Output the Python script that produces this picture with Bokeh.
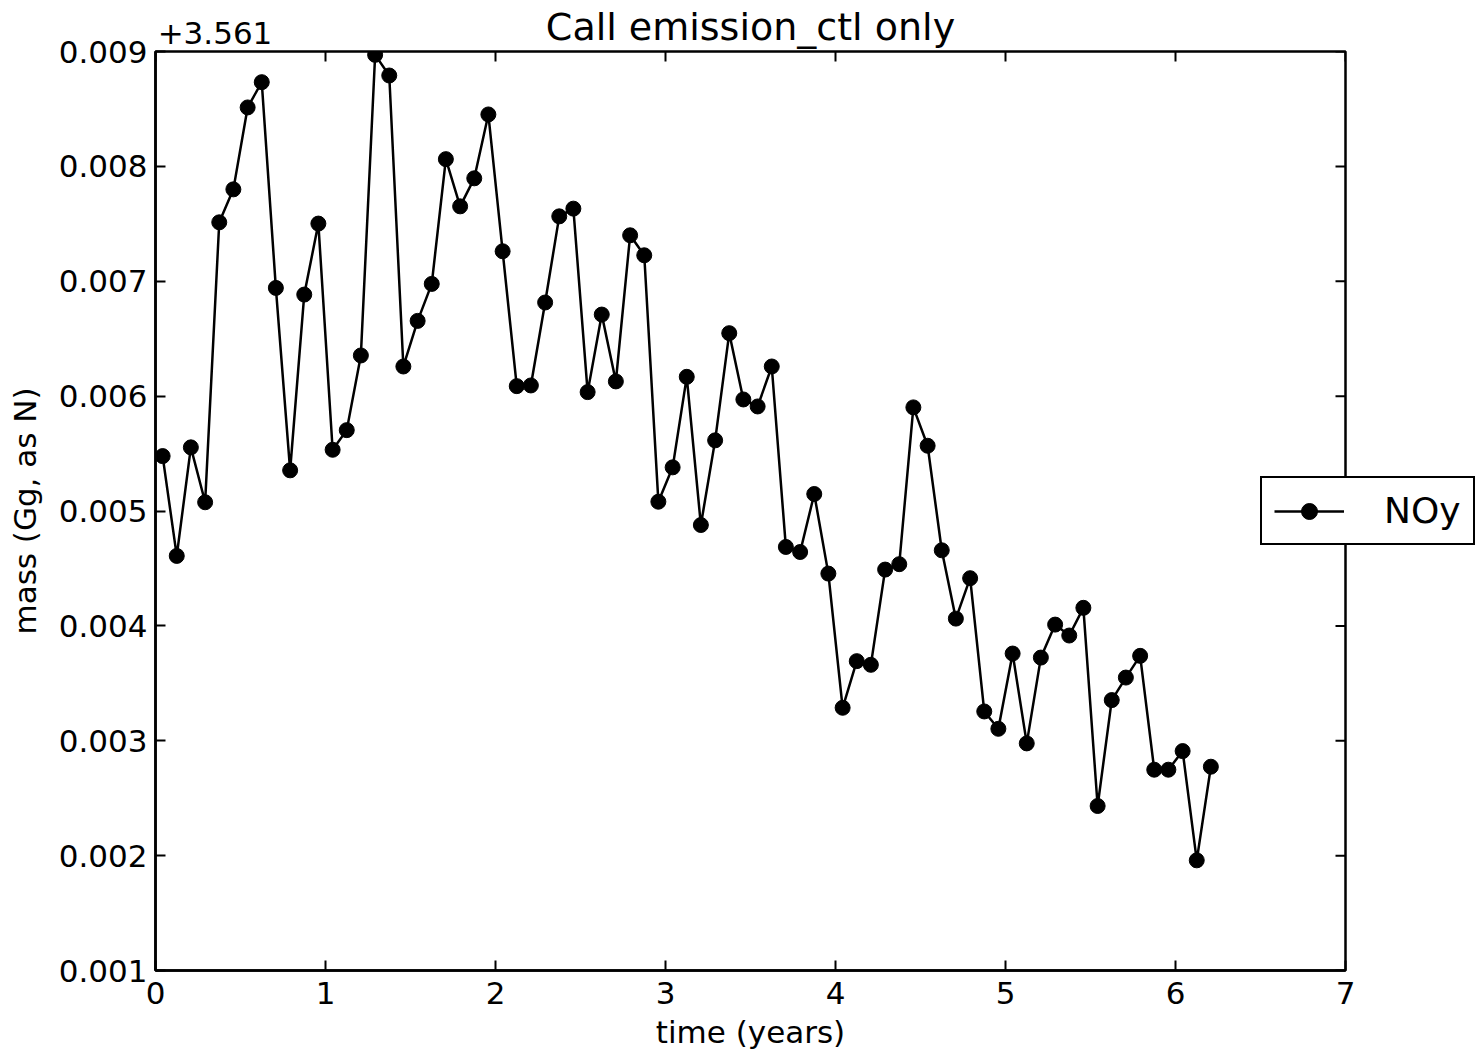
import math
from bokeh.plotting import figure
from bokeh.models import (Range1d, LinearAxis, FixedTicker, PrintfTickFormatter,
                          Legend, LegendItem)
from bokeh.embed import file_html
from bokeh.resources import INLINE

# ---- data -------------------------------------------------------------
offset_label = "+3.561"
title_text = "Call emission_ctl only"
x_label = "time (years)"
y_label = "mass (Gg, as N)"
series_name = "NOy"

time_years = [
    0.042, 0.125, 0.208, 0.292, 0.375, 0.458, 0.542, 0.625, 0.708, 0.792, 0.875, 0.958,
    1.042, 1.125, 1.208, 1.292, 1.375, 1.458, 1.542, 1.625, 1.708, 1.792, 1.875, 1.958,
    2.042, 2.125, 2.208, 2.292, 2.375, 2.458, 2.542, 2.625, 2.708, 2.792, 2.875, 2.958,
    3.042, 3.125, 3.208, 3.292, 3.375, 3.458, 3.542, 3.625, 3.708, 3.792, 3.875, 3.958,
    4.042, 4.125, 4.208, 4.292, 4.375, 4.458, 4.542, 4.625, 4.708, 4.792, 4.875, 4.958,
    5.042, 5.125, 5.208, 5.292, 5.375, 5.458, 5.542, 5.625, 5.708, 5.792, 5.875, 5.958,
    6.042, 6.125, 6.208,
]

# mass (Gg, as N) minus the offset 3.561
mass_minus_offset = [
    0.005478, 0.004609, 0.005554, 0.005076, 0.007513, 0.007800, 0.008513, 0.008733, 0.006942, 0.005354, 0.006884, 0.007502,
    0.005533, 0.005704, 0.006354, 0.008971, 0.008791, 0.006258, 0.006655, 0.006977, 0.008063, 0.007652, 0.007896, 0.008452,
    0.007261, 0.006087, 0.006093, 0.006815, 0.007565, 0.007632, 0.006035, 0.006710, 0.006128, 0.007400, 0.007226, 0.005081,
    0.005380, 0.006168, 0.004878, 0.005615, 0.006548, 0.005971, 0.005910, 0.006258, 0.004687, 0.004643, 0.005148, 0.004455,
    0.003287, 0.003693, 0.003661, 0.004490, 0.004537, 0.005902, 0.005568, 0.004658, 0.004063, 0.004415, 0.003255, 0.003104,
    0.003759, 0.002977, 0.003724, 0.004011, 0.003916, 0.004157, 0.002432, 0.003354, 0.003550, 0.003739, 0.002748, 0.002748,
    0.002910, 0.001959, 0.002774,
]

x_min, x_max = 0, 7
y_min, y_max = 0.001, 0.009
x_ticks = [0, 1, 2, 3, 4, 5, 6, 7]
y_ticks = [0.001, 0.002, 0.003, 0.004, 0.005, 0.006, 0.007, 0.008, 0.009]
offset_label_anchor = 0.35   # x position (data) at which the offset text is centred

FONT = "DejaVu Sans"
TXT = "31px"

# ---- figure -----------------------------------------------------------
W, H = 1474, 1052
p = figure(width=W, height=H,
           x_range=Range1d(x_min, x_max), y_range=Range1d(y_min, y_max),
           output_backend="svg", toolbar_location=None,
           min_border_left=155, min_border_right=W - 155 - 1190,
           min_border_top=51, min_border_bottom=H - 51 - 920)

p.background_fill_color = "white"
p.border_fill_color = "white"
p.outline_line_color = "black"
p.outline_line_width = 2.5
p.outline_line_alpha = 1.0
p.grid.visible = False

xa = p.below[0]
ya = p.left[0]
xa.ticker = FixedTicker(ticks=x_ticks)
xa.formatter = PrintfTickFormatter(format="%d")
ya.ticker = FixedTicker(ticks=y_ticks)
ya.formatter = PrintfTickFormatter(format="%.3f")

for ax in (xa, ya):
    ax.axis_line_color = "black"
    ax.axis_line_width = 2.5
    ax.major_tick_in = 10
    ax.major_tick_out = 0
    ax.major_tick_line_color = "black"
    ax.major_tick_line_width = 2
    ax.minor_tick_line_color = None
    ax.major_label_text_font = FONT
    ax.major_label_text_font_size = TXT
    ax.major_label_text_color = "black"
    ax.axis_label_text_font = FONT
    ax.axis_label_text_font_size = TXT
    ax.axis_label_text_font_style = "normal"
    ax.axis_label_text_color = "black"

xa.major_label_standoff = 11
xa.axis_label = x_label
xa.axis_label_standoff = 7
ya.major_label_standoff = 8
ya.axis_label = y_label
ya.axis_label_standoff = 13

# top axis carrying the offset text and the title (no line, no ticks)
top = LinearAxis(ticker=FixedTicker(ticks=[offset_label_anchor]),
                 formatter=PrintfTickFormatter(format=offset_label))
top.axis_line_color = None
top.major_tick_in = 0
top.major_tick_out = 0
top.minor_tick_line_color = None
top.major_label_standoff = 8
top.major_label_text_font = FONT
top.major_label_text_font_size = TXT
top.major_label_text_color = "black"
top.axis_label = title_text
top.axis_label_text_font = FONT
top.axis_label_text_font_size = "38px"
top.axis_label_text_font_style = "normal"
top.axis_label_text_color = "black"
top.axis_label_standoff = -30
p.add_layout(top, "above")

# inward ticks on the top and right frame edges (half of each dash is clipped)
p.scatter(x_ticks, [y_max] * len(x_ticks), marker="dash", size=20, angle=math.pi / 2,
          line_color="black", line_width=2)
p.scatter([x_max] * len(y_ticks), y_ticks, marker="dash", size=20,
          line_color="black", line_width=2)

# ---- data glyphs ------------------------------------------------------
line_r = p.line(time_years, mass_minus_offset, line_color="black", line_width=2.5)
pts_r = p.scatter(time_years, mass_minus_offset, marker="circle", size=15,
                  fill_color="black", line_color="black")

# ---- legend (right panel, pulled left over the frame edge) --------------
legend = Legend(items=[LegendItem(label=series_name, renderers=[line_r, pts_r])],
                location=(-85, 425))
legend.border_line_color = "black"
legend.border_line_alpha = 1.0
legend.border_line_width = 2
legend.background_fill_color = "white"
legend.background_fill_alpha = 1.0
legend.label_text_font = FONT
legend.label_text_font_size = "36px"
legend.label_text_color = "black"
legend.padding = 12
legend.margin = -270
legend.spacing = 0
legend.glyph_width = 70
legend.glyph_height = 40
legend.label_standoff = 40
p.add_layout(legend, "right")

open("out.html", "w").write(file_html(p, INLINE))
